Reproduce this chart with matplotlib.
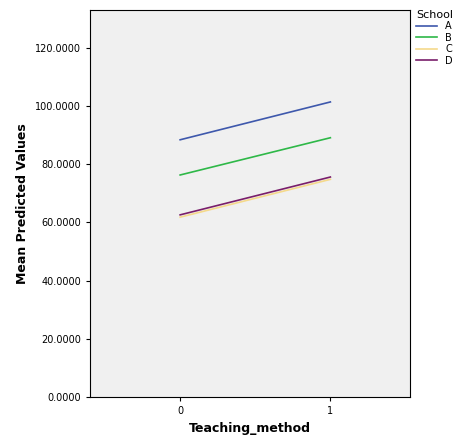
import matplotlib
matplotlib.use("Agg")
import matplotlib.pyplot as plt

x = [0, 1]
schools = ["A", "B", "C", "D"]
values = {"A": [88.4, 101.4], "B": [76.3, 89.1], "C": [61.8, 74.8], "D": [62.6, 75.6]}
colors = {"A": "#3e58ac", "B": "#2eb848", "C": "#fbf28f", "D": "#791e6b"}
colors["C"] = "#f5d98b"
yticks = [0, 20, 40, 60, 80, 100, 120]

fig = plt.figure(figsize=(4.74, 4.46), dpi=100)
ax = fig.add_axes([90/474, 49/446, 320/474, 387/446])
ax.set_facecolor("#f0f0f0")
lines = []
for s in schools:
    l, = ax.plot(x, values[s], color=colors[s], lw=1.2, label=s)
ax.set_xlim(-0.6, 1.53)
ax.set_ylim(0, 133)
ax.set_xticks([0, 1])
ax.set_xticklabels(["0", "1"])
ax.set_yticks(yticks)
ax.set_yticklabels([f"{v:.4f}" for v in yticks])
ax.tick_params(labelsize=7, length=3)
ax.set_xlabel("Teaching_method", fontsize=9, fontweight="bold")
ax.set_ylabel("Mean Predicted Values", fontsize=9, fontweight="bold")
leg = fig.legend(loc="upper left", bbox_to_anchor=(412/474, 440/446), title="School",
                 fontsize=7, title_fontsize=8, frameon=False, handlelength=2.2,
                 labelspacing=0.15, borderaxespad=0)
leg._legend_box.align = "left"
fig.savefig("out.png", dpi=100)
